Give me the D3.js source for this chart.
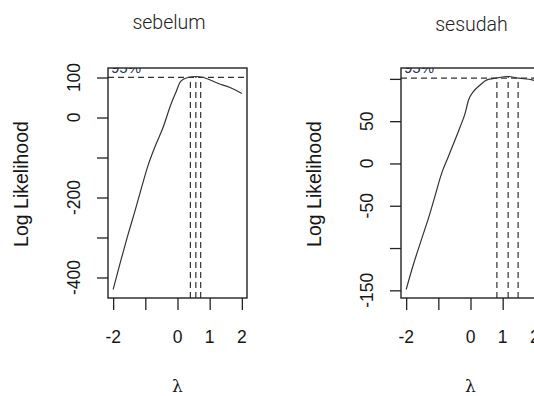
<!DOCTYPE html>
<html>
<head>
<meta charset="utf-8">
<script src="https://cdn.jsdelivr.net/npm/d3@7"></script>
<style>
  body { margin: 0; background: #fff; }
  svg { display: block; }
  text { font-family: "Liberation Sans", Arial, sans-serif; fill: #161616; }
</style>
</head>
<body>
<svg id="chart" width="534" height="396"></svg>
<script>
// box-cox profile log likelihood
var lambdaBefore = [-2, -1.8, -1.55, -1.33, -1.12, -0.92, -0.7, -0.45, -0.2, -0.03, 0.07, 0.18, 0.33, 0.57, 0.8, 1.27, 1.63, 2];
var loglikBefore = [-430, -369, -296, -236, -176, -121, -73, -25, 34, 67, 87, 95.5, 100, 102.5, 100, 85, 75, 60];
var ciBefore = [0.40, 0.57, 0.72];
var limBefore = 100.6;

var lambdaAfter = [-2, -1.78, -1.52, -1.26, -1.1, -0.9, -0.69, -0.5, -0.32, -0.17, -0.06, 0.09, 0.3, 0.51, 0.77, 1.17, 1.5, 1.92, 2];
var loglikAfter = [-149, -120, -89.5, -59, -38, -12, 8, 26, 43.5, 59, 75, 85, 92.8, 98.8, 100.8, 102.8, 100.8, 98.8, 98];
var ciAfter = [0.82, 1.17, 1.48];
var limAfter = 100.9;

var xTicks = [-2, -1, 0, 1, 2];
var xTickLabels = ['-2', '', '0', '1', '2'];
var yTicksBefore = [-400, -300, -200, -100, 0, 100];
var yTickLabelsBefore = ['-400', '', '-200', '', '0', '100'];
var yTicksAfter = [-150, -100, -50, 0, 50, 100];
var yTickLabelsAfter = ['-150', '', '-50', '0', '50', ''];

var titles = ['sebelum', 'sesudah'];

var svg = d3.select('#chart');

// R style range with 4% padding
var padRange = function(values) {
  var ext = d3.extent(values);
  var d = (ext[1] - ext[0]) * 0.04;
  return [ext[0] - d, ext[1] + d];
};

var drawPanel = function(p, i) {
  var w = 139, h = 230;
  var g = svg.append('g').attr('transform', 'translate(' + p.left + ',' + p.top + ')');

  var x = d3.scaleLinear().domain(padRange(p.lambda)).range([0, w]);
  var y = d3.scaleLinear().domain(padRange(p.loglik.concat([p.lim]))).range([h, 0]);

  var clipId = 'clip' + i;
  g.append('clipPath').attr('id', clipId)
    .append('rect').attr('width', w).attr('height', h);

  var plot = g.append('g').attr('clip-path', 'url(#' + clipId + ')');

  var line = d3.line()
    .curve(d3.curveMonotoneX)
    .x(function(d) { return x(d[0]); })
    .y(function(d) { return y(d[1]); });

  plot.append('path')
    .datum(d3.zip(p.lambda, p.loglik))
    .attr('d', line)
    .attr('fill', 'none')
    .attr('stroke', '#333')
    .attr('stroke-width', 1.2);

  plot.append('line')
    .attr('x1', 0).attr('x2', w)
    .attr('y1', y(p.lim)).attr('y2', y(p.lim))
    .attr('stroke', '#333')
    .attr('stroke-width', 1.2)
    .attr('stroke-dasharray', '6,4');

  plot.selectAll('.ci')
    .data(p.ci)
    .enter().append('line')
    .attr('x1', function(d) { return x(d); })
    .attr('x2', function(d) { return x(d); })
    .attr('y1', h)
    .attr('y2', function(d, j) { return j === 1 ? y(d3.max(p.loglik)) : y(p.lim); })
    .attr('stroke', '#333')
    .attr('stroke-width', 1.2)
    .attr('stroke-dasharray', '6,4');

  plot.append('text')
    .attr('x', 3).attr('y', 5)
    .style('font-size', '15px')
    .style('fill', '#2a3450')
    .text('95%');

  g.append('rect')
    .attr('width', w).attr('height', h)
    .attr('fill', 'none')
    .attr('stroke', '#222')
    .attr('stroke-width', 1.4);

  var xAxis = g.append('g')
    .attr('transform', 'translate(0,' + h + ')')
    .call(d3.axisBottom(x).tickValues(xTicks).tickSize(12).tickFormat(''));
  var yAxis = g.append('g')
    .call(d3.axisLeft(y).tickValues(p.yTicks).tickSize(11).tickFormat(''));
  [xAxis, yAxis].forEach(function(a) {
    a.select('.domain').remove();
    a.selectAll('line').attr('stroke', '#222').attr('stroke-width', 1.3);
  });

  g.selectAll('.xlab')
    .data(xTicks)
    .enter().append('text')
    .attr('x', function(d) { return x(d); })
    .attr('y', h + 45)
    .attr('text-anchor', 'middle')
    .style('font-size', '17.5px')
    .text(function(d, j) { return xTickLabels[j]; });

  g.selectAll('.ylab')
    .data(p.yTicks)
    .enter().append('text')
    .attr('transform', function(d) { return 'translate(-28.5,' + y(d) + ') rotate(-90)'; })
    .attr('text-anchor', 'middle')
    .style('font-size', '17.5px')
    .text(function(d, j) { return p.yLabels[j]; });

  g.append('text')
    .attr('transform', 'translate(-80,' + (h / 2 + 1) + ') rotate(-90)')
    .attr('text-anchor', 'middle')
    .style('font-size', '19.5px')
    .text('Log Likelihood');

  g.append('text')
    .attr('x', w / 2)
    .attr('y', h + 94)
    .attr('text-anchor', 'middle')
    .style('font-size', '17px')
    .style('font-family', '"DejaVu Serif", serif')
    .text('λ');

  svg.append('text')
    .attr('x', p.titleX)
    .attr('y', p.titleY)
    .attr('text-anchor', 'middle')
    .style('font-size', '19.5px')
    .style('font-family', 'Roboto, "Liberation Sans", sans-serif')
    .style('font-weight', 300)
    .style('fill', '#222')
    .text(titles[i]);
};

[
  { left: 108, top: 68, lambda: lambdaBefore, loglik: loglikBefore, ci: ciBefore, lim: limBefore,
    yTicks: yTicksBefore, yLabels: yTickLabelsBefore, titleX: 169, titleY: 28.5 },
  { left: 401, top: 68, lambda: lambdaAfter, loglik: loglikAfter, ci: ciAfter, lim: limAfter,
    yTicks: yTicksAfter, yLabels: yTickLabelsAfter, titleX: 471.5, titleY: 30.5 }
].forEach(drawPanel);
</script>
</body>
</html>
